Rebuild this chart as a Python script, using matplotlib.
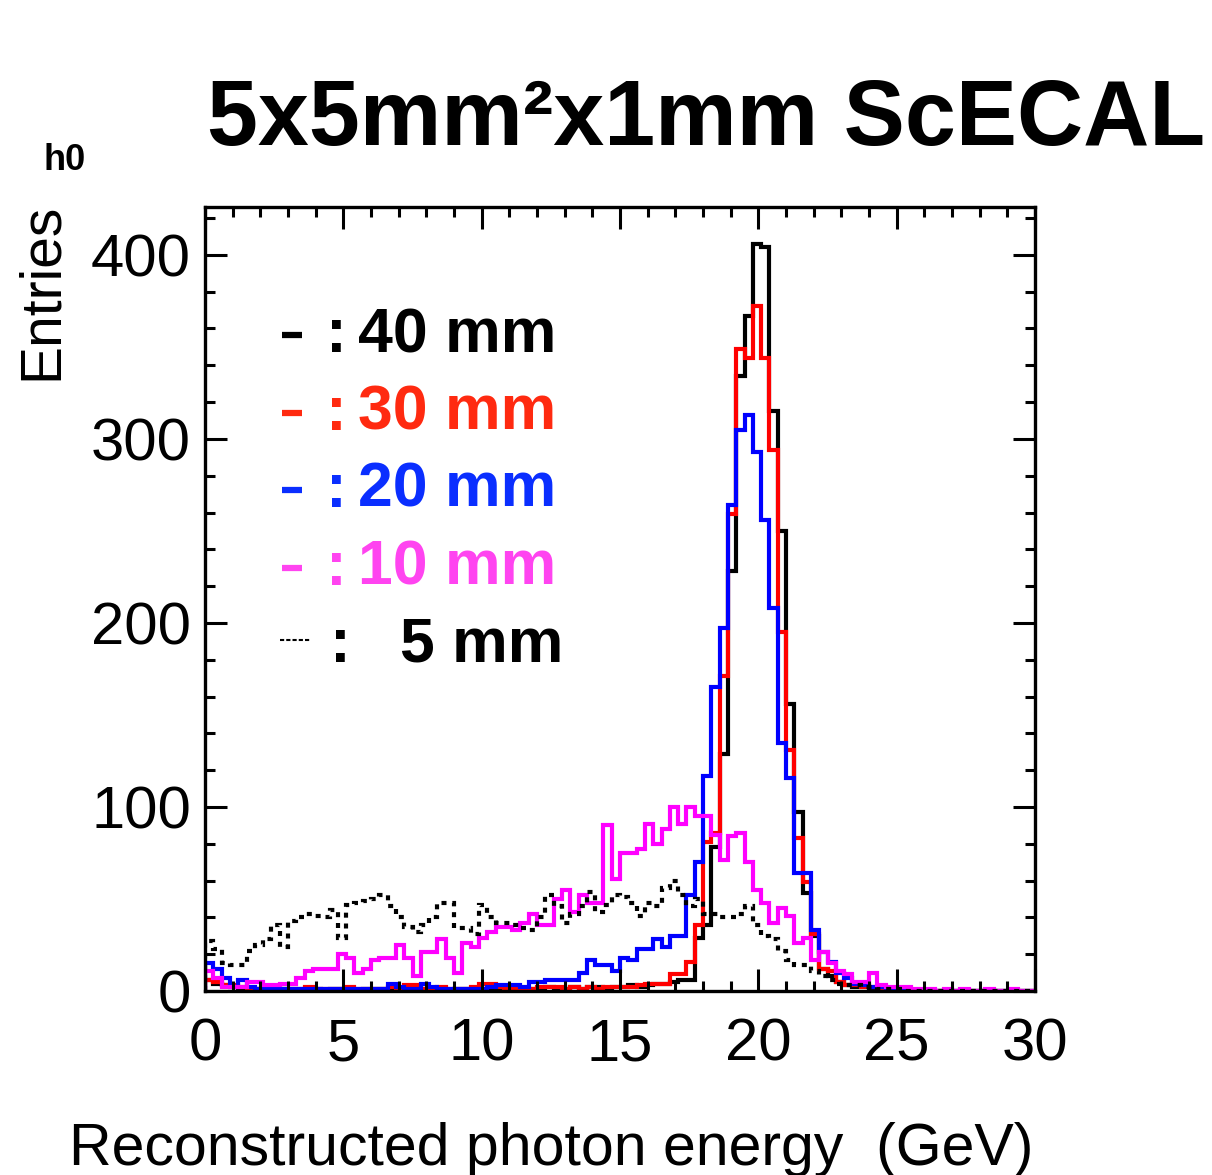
import numpy as np
import matplotlib
matplotlib.use("Agg")
import matplotlib.pyplot as plt
from matplotlib.ticker import MultipleLocator

plt.rcParams['font.family'] = ['Liberation Sans', 'DejaVu Sans']

# 100 bins of 0.3 GeV between 0 and 30 GeV
bin_edges = np.linspace(0, 30, 101)

# entries per bin
h_40mm = [6, 4, 3, 2, 1, 1, 1, 0, 1, 1,
          1, 0, 1, 1, 0, 1, 1, 1, 0, 1,
          1, 1, 0, 1, 1, 0, 1, 1, 1, 0,
          1, 1, 0, 1, 1, 1, 0, 1, 1, 1,
          1, 2, 1, 1, 2, 1, 2, 2, 1, 2,
          2, 3, 2, 3, 4, 4, 5, 6, 6, 29,
          36, 78, 129, 228, 334, 367, 406, 404, 315, 250,
          156, 97, 53, 30, 12, 8, 5, 3, 2, 2,
          1, 1, 1, 0, 0, 0, 0, 0, 0, 0,
          0, 0, 0, 0, 0, 0, 0, 0, 0, 0]

h_30mm = [6, 5, 3, 3, 2, 1, 1, 2, 1, 1,
          1, 1, 2, 1, 1, 1, 1, 2, 1, 1,
          1, 1, 2, 1, 3, 3, 1, 1, 2, 1,
          1, 1, 2, 4, 4, 2, 1, 1, 1, 1,
          2, 2, 2, 1, 2, 1, 2, 1, 2, 2,
          2, 2, 3, 4, 4, 4, 9, 9, 16, 36,
          81, 86, 171, 259, 349, 344, 372, 344, 294, 195,
          131, 83, 59, 31, 12, 11, 5, 3, 3, 2,
          2, 1, 1, 0, 0, 0, 0, 0, 0, 0,
          0, 0, 0, 0, 0, 0, 0, 0, 0, 0]

h_20mm = [15, 12, 7, 2, 6, 2, 1, 1, 1, 1,
          1, 1, 1, 1, 1, 1, 1, 1, 1, 1,
          1, 1, 4, 2, 1, 1, 4, 2, 1, 1,
          1, 1, 1, 1, 2, 3, 3, 3, 2, 5,
          5, 6, 6, 6, 6, 10, 17, 14, 14, 11,
          18, 17, 23, 23, 28, 24, 30, 30, 52, 70,
          117, 165, 197, 264, 305, 313, 293, 256, 208, 135,
          116, 64, 64, 33, 21, 16, 10, 7, 4, 3,
          2, 2, 1, 1, 1, 0, 0, 0, 0, 0,
          0, 0, 0, 0, 0, 0, 0, 0, 0, 0]

h_10mm = [11, 7, 2, 2, 2, 5, 5, 3, 3, 4,
          4, 7, 11, 12, 12, 12, 20, 18, 10, 12,
          17, 18, 18, 25, 18, 8, 21, 21, 28, 18,
          10, 26, 24, 29, 32, 35, 35, 33, 37, 42,
          36, 36, 50, 55, 43, 52, 48, 48, 90, 61,
          75, 75, 77, 91, 80, 88, 100, 91, 100, 95,
          95, 85, 71, 84, 86, 70, 55, 48, 37, 45,
          41, 26, 29, 17, 21, 15, 11, 9, 5, 5,
          10, 3, 2, 2, 2, 1, 1, 1, 0, 1,
          0, 1, 0, 0, 1, 0, 0, 1, 0, 0]

h_5mm = [27, 23, 15, 14, 14, 22, 25, 28, 36, 24,
         38, 40, 42, 41, 40, 44, 29, 47, 48, 49,
         50, 52, 46, 40, 35, 32, 36, 40, 48, 48,
         34, 34, 31, 47, 40, 37, 37, 36, 34, 33,
         40, 52, 46, 37, 42, 46, 54, 43, 47, 52,
         51, 48, 41, 48, 46, 56, 60, 52, 46, 50,
         42, 42, 40, 40, 42, 46, 36, 30, 28, 22,
         17, 14, 14, 11, 8, 6, 4, 3, 3, 2,
         2, 1, 1, 1, 0, 0, 0, 0, 0, 0,
         0, 0, 0, 0, 0, 0, 0, 0, 0, 0]

legend_labels = ['40 mm', '30 mm', '20 mm', '10 mm', '5 mm']
legend_colors = ['#000000', '#ff2a10', '#0a2eff', '#ff44f0']

W, H = 1212, 1175
fig = plt.figure(figsize=(W / 100, H / 100), dpi=100)
ax = fig.add_axes([205 / W, 1 - 991 / H, 830 / W, 784 / H])

lw = 3.0
ax.stairs(h_40mm, bin_edges, color='black', lw=lw)
ax.stairs(h_30mm, bin_edges, color='#ff0000', lw=lw)
ax.stairs(h_20mm, bin_edges, color='#0000ff', lw=lw)
ax.stairs(h_10mm, bin_edges, color='#ff00ff', lw=lw)
ax.stairs(h_5mm, bin_edges, color='black', lw=lw, linestyle=(0, (1.2, 1.4)))

ax.set_xlim(0, 30)
ax.set_ylim(0, 426)
ax.xaxis.set_major_locator(MultipleLocator(5))
ax.xaxis.set_minor_locator(MultipleLocator(1))
ax.yaxis.set_major_locator(MultipleLocator(100))
ax.yaxis.set_minor_locator(MultipleLocator(20))
ax.tick_params(which='both', direction='in', top=True, right=True, width=2.2)
ax.tick_params(which='major', length=16, labelsize=43)
ax.tick_params(which='minor', length=7)
ax.tick_params(axis='x', pad=19)
ax.tick_params(axis='y', pad=10)
for s in ax.spines.values():
    s.set_linewidth(2.4)

# titles and axis labels
fig.text(207 / W, 1 - 145 / H, '5x5mm²x1mm ScECAL', fontsize=66,
         fontweight='bold', ha='left', va='baseline')
fig.text(43 / W, 1 - 170 / H, 'h0', fontsize=26, fontweight='bold',
         ha='left', va='baseline')
fig.text(42 / W, 1 - 203 / H, 'Entries', fontsize=41, rotation=90,
         ha='center', va='top')
fig.text(1033 / W, 1 - 1165 / H, 'Reconstructed photon energy  (GeV)',
         fontsize=42.5, ha='right', va='baseline')

# hand-made legend
baselines = [352, 430, 507, 585, 662]
for i, lab in enumerate(legend_labels):
    y = baselines[i]
    if i < 4:
        c = legend_colors[i]
        yd = 1 - (y - 17) / H
        fig.add_artist(plt.Line2D([282 / W, 302 / W], [yd, yd], color=c,
                                  lw=4.5, solid_capstyle='butt'))
        fig.text(326 / W, 1 - y / H, ':', fontsize=45, fontweight='bold',
                 color=c, ha='left', va='baseline')
        fig.text(358 / W, 1 - y / H, lab, fontsize=45, fontweight='bold',
                 color=c, ha='left', va='baseline')
    else:
        yd = 1 - (y - 22) / H
        fig.add_artist(plt.Line2D([280 / W, 310 / W], [yd, yd], color='black',
                                  lw=1.5, linestyle=(0, (2, 1))))
        fig.text(330 / W, 1 - y / H, ':', fontsize=45, fontweight='bold',
                 ha='left', va='baseline')
        fig.text(400 / W, 1 - y / H, lab, fontsize=45, fontweight='bold',
                 ha='left', va='baseline')

fig.savefig('out.png', dpi=100)
